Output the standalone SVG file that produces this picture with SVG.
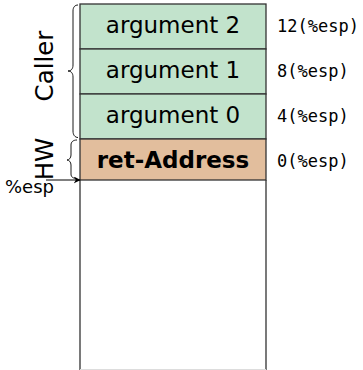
<svg xmlns="http://www.w3.org/2000/svg" width="363" height="370" viewBox="0 0 363 370">
<style>
.cell{stroke:#333;stroke-width:1.3}
.green{fill:#c2e3cc}
.orange{fill:#e2be9d}
.lbl{font-family:"DejaVu Sans",sans-serif;font-size:23px;fill:#000;text-anchor:middle}
.side{font-size:24.5px}
.off{font-family:"DejaVu Sans Mono",monospace;font-size:17px;fill:#000}
.brace{fill:none;stroke:#000;stroke-width:0.9}
</style>
<defs>
<marker id="arr" viewBox="0 0 10 10" refX="9" refY="5" markerWidth="7" markerHeight="7" markerUnits="userSpaceOnUse" orient="auto">
<path d="M0,0 L10,5 L0,10 L3,5 z" fill="#000"/>
</marker>
</defs>
<g id="stack-free">
<path d="M80,180 L80,370 M266,180 L266,370" stroke="#333" stroke-width="1.3" fill="none"/>
<line x1="80" y1="369.5" x2="266" y2="369.5" stroke="#ddd" stroke-width="1"/>
</g>
<g id="arg2">
<rect class="cell green" x="80" y="4" width="186" height="45"/>
<text class="lbl" x="173" y="33">argument 2</text>
</g>
<g id="arg1">
<rect class="cell green" x="80" y="49" width="186" height="45"/>
<text class="lbl" x="173" y="78">argument 1</text>
</g>
<g id="arg0">
<rect class="cell green" x="80" y="94" width="186" height="45"/>
<text class="lbl" x="173" y="123">argument 0</text>
</g>
<g id="ret">
<rect class="cell orange" x="80" y="139" width="186" height="41"/>
<text class="lbl" x="173" y="168" font-weight="bold">ret-Address</text>
</g>
<g id="offsets">
<text class="off" x="277" y="31.5">12(%esp)</text>
<text class="off" x="277" y="76.5">8(%esp)</text>
<text class="off" x="277" y="121.5">4(%esp)</text>
<text class="off" x="277" y="166.5">0(%esp)</text>
</g>
<g id="caller">
<path class="brace" d="M78,5 C75,5 73,7 73,11 L73,65 C73,69 71,71 68,71 C71,71 73,73 73,77 L73,131 C73,135 75,137.5 78,137.5"/>
<text class="lbl side" transform="translate(53,66) rotate(-90)">Caller</text>
</g>
<g id="hw">
<path class="brace" d="M77,140 C73,140 71,142 71,145 L71,155 C71,158 69,160 67,160 C69,160 71,162 71,165 L71,174 C71,177 73,178.5 77,178.5"/>
<text class="lbl side" transform="translate(53,159) rotate(-90)">HW</text>
</g>
<g id="connectors">
<line x1="46" y1="180" x2="80" y2="180" stroke="#000" stroke-width="1" marker-end="url(#arr)"/>
<text x="5" y="193" font-family="DejaVu Sans,sans-serif" font-size="18" fill="#000">%esp</text>
</g>
</svg>
